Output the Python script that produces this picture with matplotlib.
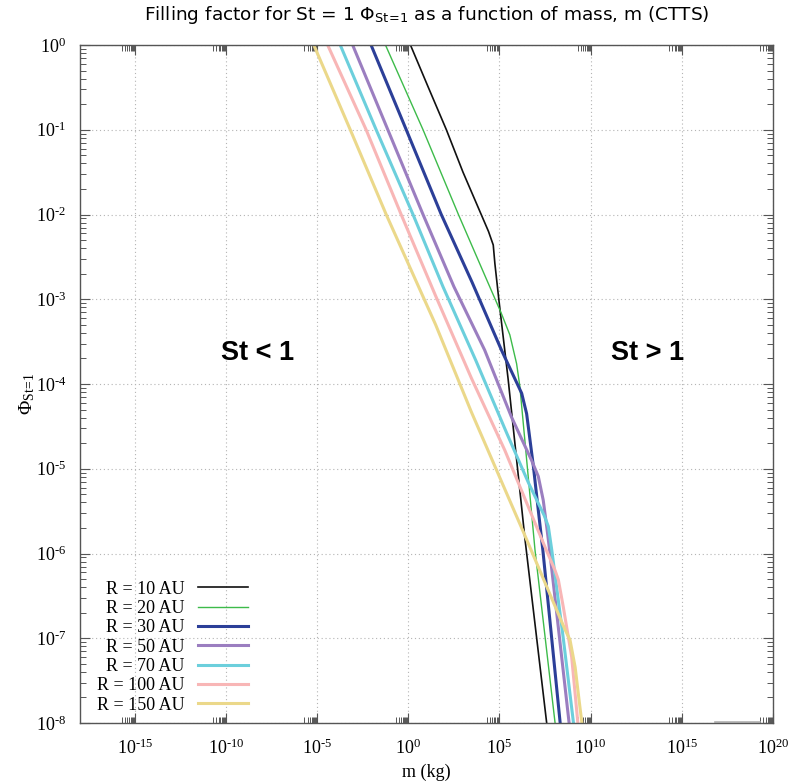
import numpy as np
import matplotlib
matplotlib.use("Agg")
import matplotlib.pyplot as plt
from matplotlib.ticker import FixedLocator, NullFormatter, FuncFormatter

plt.rcParams['font.family'] = 'Liberation Serif'
plt.rcParams['mathtext.fontset'] = 'custom'
plt.rcParams['mathtext.rm'] = 'Liberation Serif'
plt.rcParams['mathtext.it'] = 'Liberation Serif:italic'
plt.rcParams['mathtext.sf'] = 'DejaVu Sans'

# curves: log10(mass / kg) and log10(filling factor)
labels = ['R = 10 AU', 'R = 20 AU', 'R = 30 AU', 'R = 50 AU', 'R = 70 AU', 'R = 100 AU', 'R = 150 AU']
colors = ['#111111', '#3dbb4a', '#2c3f98', '#9b7ec0', '#6ccfdc', '#f8b6b6', '#ebd88a']
widths = [1.2, 1.0, 2.2, 2.2, 2.2, 2.2, 2.2]

logm_10 = [0.12, 1.1, 2.09, 3.0, 4.0, 4.4, 4.66, 4.75, 4.97, 5.48, 6.40, 7.59]
logp_10 = [0.0, -0.5, -1.0, -1.5, -2.0, -2.2, -2.36, -2.58, -3.01, -3.95, -5.83, -8.0]

logm_20 = [-1.25, 0.81, 2.75, 4.2, 5.11, 5.57, 5.94, 6.12, 6.95, 8.05]
logp_20 = [0.0, -1.0, -2.0, -2.72, -3.17, -3.42, -3.76, -4.03, -5.96, -8.0]

logm_30 = [-2.04, -0.11, 1.81, 3.5, 5.11, 6.22, 6.49, 6.86, 7.13, 7.38, 8.33]
logp_30 = [0.0, -1.0, -2.0, -2.8, -3.6, -4.11, -4.35, -4.97, -5.49, -5.96, -8.0]

logm_50 = [-3.05, -1.12, 0.81, 2.5, 4.19, 5.66, 6.76, 7.13, 7.40, 7.59, 7.75, 8.82]
logp_50 = [0.0, -1.0, -2.0, -2.85, -3.6, -4.39, -4.9, -5.09, -5.37, -5.68, -5.96, -8.0]

logm_70 = [-3.73, -1.76, 0.26, 1.9, 3.7, 5.4, 6.6, 7.45, 7.68, 7.87, 8.5, 9.06]
logp_70 = [0.0, -1.0, -2.0, -2.85, -3.72, -4.58, -5.17, -5.55, -5.68, -5.96, -7.0, -8.0]

logm_100 = [-4.42, -2.31, -0.39, 1.5, 3.46, 5.29, 7.49, 8.05, 8.23, 8.50, 8.96, 9.30]
logp_100 = [0.0, -1.0, -2.0, -2.96, -3.93, -4.78, -5.92, -6.2, -6.31, -6.63, -7.22, -8.0]

logm_150 = [-5.18, -3.18, -1.21, 1.5, 3.46, 6.40, 8.6, 8.87, 9.15, 9.35, 9.52]
logp_150 = [0.0, -1.0, -2.0, -3.3, -4.33, -5.79, -6.9, -7.02, -7.34, -7.7, -8.0]

# faint segment near the bottom right
logm_tail = [16.84, 19.26]
logp_tail = [-7.985, -7.985]

curves = [(logm_10, logp_10), (logm_20, logp_20), (logm_30, logp_30), (logm_50, logp_50),
          (logm_70, logp_70), (logm_100, logp_100), (logm_150, logp_150)]

fig = plt.figure(figsize=(7.91, 7.83), dpi=100)
ax = fig.add_axes([80/791, 60/783, 693/791, 678/783])

for (lm, lp), lab, col, lw in zip(curves, labels, colors, widths):
    ax.plot(10**np.array(lm), 10**np.array(lp), color=col, lw=lw, label=lab)
ax.plot(10**np.array(logm_tail), 10**np.array(logp_tail), color='#b0b0b0', lw=1.2)

ax.set_xscale('log')
ax.set_yscale('log')
ax.set_xlim(1e-18, 1e20)
ax.set_ylim(1e-8, 1e0)

def pow_label(v, pos):
    k = int(round(np.log10(v)))
    return '$10^{' + ('\u2010' + str(-k) if k < 0 else str(k)) + '}$'

xmaj = [10.0**k for k in range(-15, 21, 5)]
ax.xaxis.set_major_locator(FixedLocator(xmaj))
ax.xaxis.set_minor_locator(FixedLocator([s * 10.0**(k - 1) for k in range(-15, 21, 5) for s in range(2, 10)]))
ax.xaxis.set_minor_formatter(NullFormatter())
ax.xaxis.set_major_formatter(FuncFormatter(pow_label))
ax.yaxis.set_major_locator(FixedLocator([10.0**k for k in range(-8, 1)]))
ax.yaxis.set_minor_locator(FixedLocator([s * 10.0**k for k in range(-8, 0) for s in range(2, 10)]))
ax.yaxis.set_minor_formatter(NullFormatter())
ax.yaxis.set_major_formatter(FuncFormatter(pow_label))

ax.tick_params(which='both', direction='in', top=True, right=True, colors='#555555', labelcolor='black', labelsize=13)
ax.tick_params(which='major', length=7, width=0.8)
ax.tick_params(axis='x', which='major', pad=11)
ax.tick_params(axis='y', which='major', pad=10)
ax.tick_params(which='minor', length=4, width=0.7)
for s in ax.spines.values():
    s.set_color('#555555')
    s.set_linewidth(1.0)

ax.grid(True, which='major', ls=(0, (1, 2.5)), color='#b4b4b4', lw=0.8)

ax.set_title('Filling factor for St = 1 \u03a6$_{\\mathsf{St\\!=\\!1}}$ as a function of mass, m (CTTS)',
             fontsize=13.3, family='DejaVu Sans', pad=18)
ax.set_xlabel('m (kg)', fontsize=13)
ax.xaxis.set_label_coords(0.5, -0.06)
ax.set_ylabel(r'$\Phi_{\mathrm{St\!=\!1}}$', fontsize=14)
ax.yaxis.set_label_coords(-0.062, 0.485)

ax.text(10**-8.26, 10**-3.63, 'St < 1', fontsize=19.5, fontweight='bold', family='Liberation Sans',
        ha='center', va='center')
ax.text(10**13.1, 10**-3.63, 'St > 1', fontsize=19.5, fontweight='bold', family='Liberation Sans',
        ha='center', va='center')

leg = ax.legend(loc='lower right', bbox_to_anchor=(0.2525, 0.003), frameon=False, markerfirst=False,
                fontsize=13, handlelength=2.75, handletextpad=0.75, labelspacing=0.13, borderaxespad=0)

fig.savefig('out.png', dpi=100)
